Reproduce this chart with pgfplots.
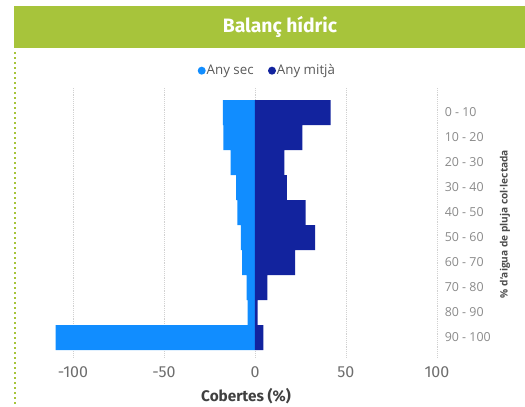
\documentclass[border=0pt]{standalone}
\usepackage{fontspec}
\setmainfont{Open Sans}
\newfontfamily\din{Fira Sans}
\usepackage{pgfplots}
\pgfplotsset{compat=1.18}
\definecolor{sec}{HTML}{118DFF}
\definecolor{mitja}{HTML}{12239E}
\definecolor{lgreen}{HTML}{A7C43B}
\definecolor{tickgray}{HTML}{6E6E6E}
\definecolor{catgray}{HTML}{8A8A8A}
\begin{document}
\begin{tikzpicture}
\path[use as bounding box] (0,0) rectangle (393.75pt,-305.25pt);
\fill[lgreen] (10.5pt,-4.5pt) rectangle (393.75pt,-36pt);
\node[text=white,font=\din\bfseries\fontsize{14.5}{17}\selectfont] at (210pt,-20.5pt) {Balanç hídric};
\foreach \i in {0,...,71} {\fill[lgreen] (10.6pt,-39pt-\i*3.75pt) rectangle +(1.6pt,-1.6pt);}
% legend
\fill[sec] (151.3pt,-53pt) circle (3pt);
\node[anchor=west,inner sep=0pt,text=black!65,font=\fontsize{10}{12}\selectfont] at (154.8pt,-53.5pt) {Any sec};
\fill[mitja] (204pt,-53pt) circle (3pt);
\node[anchor=west,inner sep=0pt,text=black!65,font=\fontsize{10}{12}\selectfont] at (207.5pt,-53.5pt) {Any mitjà};
% y label
\node[rotate=90,text=black!70,font=\bfseries\fontsize{7.6}{9}\selectfont] at (378.75pt,-168pt) {\% d'aigua de pluja col·lectada};
% x label
\node[text=black!75,font=\din\bfseries\fontsize{11.5}{13}\selectfont] at (184.5pt,-297pt) {Cobertes (\%)};
\begin{axis}[
  at={(38.4pt,-268.5pt)}, anchor=south west,
  width=292pt, height=202.5pt, scale only axis,
  xmin=-112, xmax=102,
  ymin=-0.98, ymax=9.82, y dir=reverse,
  xtick={-100,-50,0,50,100},
  ytick={0,...,9},
  yticklabels={0 - 10,10 - 20,20 - 30,30 - 40,40 - 50,50 - 60,60 - 70,70 - 80,80 - 90,90 - 100},
  yticklabel pos=right,
  yticklabel style={anchor=west,inner sep=0pt,xshift=3pt,text=catgray,font=\fontsize{9.3}{11}\selectfont},
  xticklabel style={inner sep=0pt,yshift=-6pt,text=tickgray,font=\din\fontsize{12}{14}\selectfont},
  /pgf/number format/assume math mode=true,
  major tick length=0pt,
  axis line style={draw=none},
  xmajorgrids,
  grid style={densely dotted, black!18},
  xbar, bar width=1, bar shift=0pt,
]
\addplot[fill=sec, draw=none] coordinates {
(-17.7,0) (-17.4,1) (-13.4,2) (-10.4,3) (-9.7,4) (-7.7,5) (-7.0,6) (-4.6,7) (-4.0,8) (-109.5,9)};
\addplot[fill=mitja, draw=none] coordinates {
(41.6,0) (26.0,1) (16.1,2) (17.6,3) (27.8,4) (33.1,5) (22.1,6) (6.8,7) (1.5,8) (4.6,9)};
\end{axis}
\end{tikzpicture}
\end{document}
